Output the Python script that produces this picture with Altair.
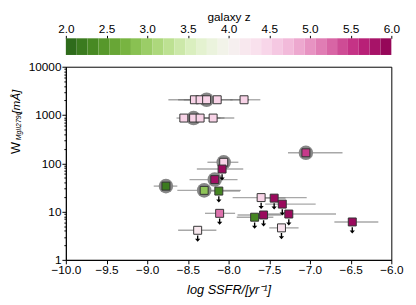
import altair as alt
import pandas as pd

# ---- data ----
ssfr = [-8.42, -8.35, -8.27, -8.14, -7.81,
        -8.55, -8.43, -8.35, -8.19,
        -8.06, -8.08, -8.17, -8.30, -8.12, -8.77,
        -7.05, -7.60, -7.44, -7.34, -7.26, -7.68, -7.57, -7.35, -6.48, -8.11, -8.38]
ew = [2070, 2070, 2070, 2070, 2070,
      865, 865, 865, 865,
      105, 76, 46, 27.5, 26.6, 33.7,
      165, 19.5, 19.0, 14.3, 8.9, 7.65, 8.5, 4.6, 6.1, 9.2, 4.1]
zgal = [4.5, 4.5, 4.5, 4.5, 4.5,
        4.5, 4.5, 4.5, 4.5,
        4.5, 5.9, 5.85, 2.9, 2.3, 2.2,
        5.5, 4.5, 5.9, 5.9, 5.9, 2.3, 5.9, 4.3, 5.9, 5.2, 4.2]
ssfr_lo = [-8.74, -8.62, -8.55, -8.40, -7.98,
           -8.64, -8.60, -8.50, -8.35,
           -8.26, -8.39, -8.48, -8.63, -8.32, -8.92,
           -7.27, -7.95, -7.55, -7.55, -7.62, -7.90, -7.89, -7.50, -6.70, -8.29, -8.62]
ssfr_hi = [-8.10, -8.08, -7.95, -7.75, -7.61,
           -8.35, -8.10, -8.05, -7.93,
           -7.88, -7.82, -7.89, -7.85, -7.86, -8.63,
           -6.60, -7.04, -7.30, -6.93, -6.68, -7.45, -7.35, -7.14, -6.16, -7.92, -8.15]
upper_limit = [False] * 9 + [False, True, False, False, True, False,
                             False, True, True, True, True, True, True, True, True, True, True]
circled = [False, False, True, False, False,
           False, True, False, False,
           True, False, True, True, False, True,
           True] + [False] * 10

x_ticks = [-10.0, -9.5, -9.0, -8.5, -8.0, -7.5, -7.0, -6.5, -6.0]
y_major = [1, 10, 100, 1000, 10000]
y_minor = [m * 10 ** k for k in range(4) for m in range(2, 10)]
z_ticks = [2.0, 2.5, 3.0, 3.5, 4.0, 4.5, 5.0, 5.5, 6.0]
n_cbar = 30

df = pd.DataFrame(dict(ssfr=ssfr, ew=ew, z=zgal, lo=ssfr_lo, hi=ssfr_hi,
                       lim=upper_limit, circ=circled))

edges = [2 + 4 * i / n_cbar for i in range(n_cbar + 1)]
cb = pd.DataFrame({"z0": edges[:-1], "z1": edges[1:],
                   "zm": [(a + b) / 2 for a, b in zip(edges[:-1], edges[1:])]})

FONT = "Liberation Sans"
xscale = alt.Scale(domain=[-10, -6], nice=False, zero=False)
yscale = alt.Scale(type="log", domain=[1, 10000], nice=False)
zscale = alt.Scale(domain=[2, 6], nice=False, zero=False)
cscale = alt.Scale(scheme="pinkyellowgreen", reverse=True, domain=[2, 6])

is_major = " || ".join(f"datum.value == {v}" for v in y_major)

xaxis = alt.Axis(values=x_ticks, format=".1f", title="log SSFR/[yr⁻¹]",
                 titleFontStyle="italic", titleFontWeight="normal", titleFontSize=13,
                 titleFont=FONT, titlePadding=8, grid=False, tickSize=4,
                 labelFontSize=12, labelFont=FONT, labelColor="black",
                 labelOverlap=False, labelFlush=False, tickColor="black",
                 domainColor="black", labelPadding=1, minExtent=0)
yaxis = alt.Axis(values=sorted(y_major + y_minor),
                 labelExpr=f"({is_major}) ? format(datum.value, 'd') : ''",
                 tickSize={"condition": {"test": is_major, "value": 4}, "value": 2},
                 title=None, grid=False, labelOverlap=False, labelFlush=False,
                 labelFontSize=12, labelFont=FONT, labelColor="black",
                 tickColor="black", domainColor="black", labelPadding=1, minExtent=0)
zaxis = alt.Axis(orient="top", offset=29, values=z_ticks, format=".1f",
                 title="galaxy z", titleFontSize=12, titleFont=FONT,
                 titleFontWeight="normal", titlePadding=-1, domain=False,
                 tickSize=3, tickColor="black", labelFontSize=12, labelFont=FONT,
                 labelColor="black", labelPadding=0, grid=False, minExtent=0,
                 labelOverlap=False, labelFlush=False)

base = alt.Chart(df)
X = alt.X("ssfr:Q", scale=xscale, axis=xaxis)
Y = alt.Y("ew:Q", scale=yscale, axis=yaxis)

err = base.mark_rule(color="#6e6e6e", opacity=0.6, strokeWidth=1.4).encode(
    x=alt.X("lo:Q", scale=xscale, axis=xaxis), x2="hi:Q", y=Y)
circ = base.transform_filter("datum.circ").mark_circle(
    color="#878787", opacity=1, size=220).encode(x=X, y=Y)
sq = base.mark_square(filled=True, size=66, stroke="#333333", strokeWidth=1,
                      opacity=1).encode(
    x=X, y=Y, color=alt.Color("z:Q", scale=cscale, legend=None))
ARROW = "M-0.22,-1 L0.22,-1 L0.22,0.05 L0.85,0.05 L0,1 L-0.85,0.05 L-0.22,0.05 Z"
arr = base.transform_filter("datum.lim").mark_point(
    shape=ARROW, filled=True, color="black", size=40, yOffset=8.5, opacity=1,
    strokeWidth=0).encode(x=X, y=Y)


def label(txt, x, y, size, style="normal"):
    return alt.Chart(pd.DataFrame({"t": [txt]})).mark_text(
        angle=270, align="left", baseline="alphabetic", fontSize=size,
        font=FONT, fontStyle=style, color="black").encode(
        x=alt.value(x), y=alt.value(y), text="t:N")


ytitle = label("W", -47, 89, 13) + label("MgII2796", -45.5, 75, 7, "italic") + \
    label("[mÅ]", -47, 48, 12, "italic")

main = alt.layer(err, circ, sq, arr, ytitle)

cbar = alt.Chart(cb).mark_rect(strokeWidth=0).encode(
    x=alt.X("z0:Q", scale=zscale, axis=zaxis),
    x2="z1:Q",
    y=alt.value(-29), y2=alt.value(-12),
    color=alt.Color("zm:Q", scale=cscale, legend=None),
)

chart = alt.layer(main, cbar).resolve_scale(x="independent").properties(
    width=332, height=197,
    padding={"left": 2, "top": 0, "right": 5, "bottom": 0},
).configure_view(stroke="black", strokeWidth=1)

chart.save("out.html", embed_options={"renderer": "svg", "actions": False})
